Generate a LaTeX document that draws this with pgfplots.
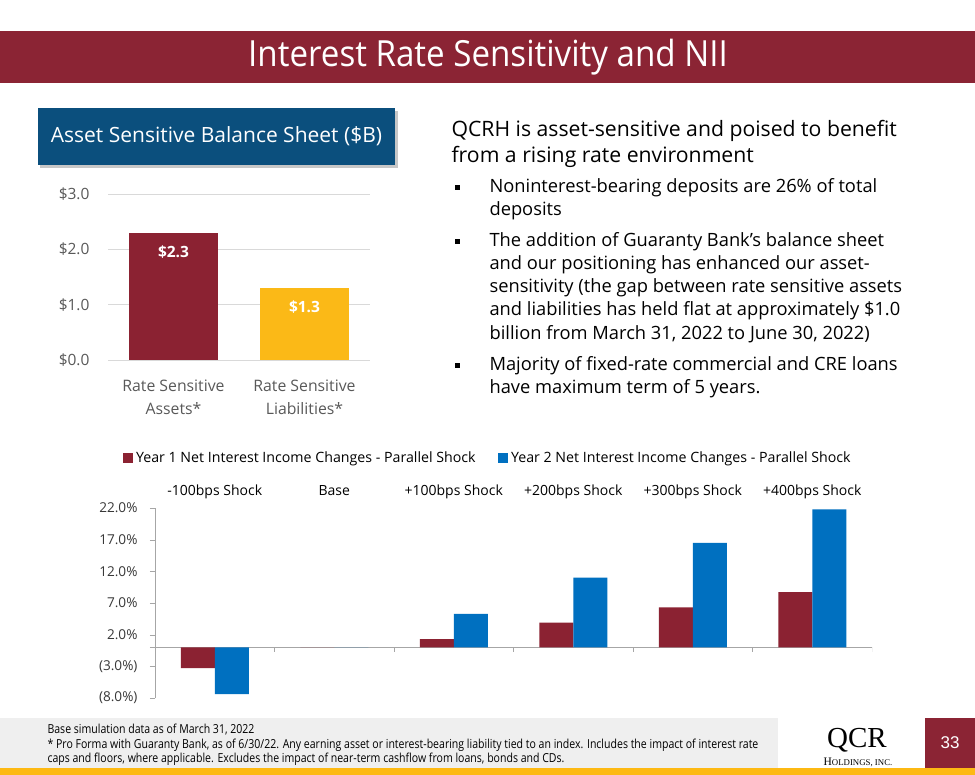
\documentclass[border=0pt]{standalone}
\usepackage{fontspec}
\setmainfont{Open Sans}
\newfontfamily\condfont{Open Sans}[FakeStretch=0.85]
\newfontfamily\titlefont{Open Sans}[FakeStretch=0.92]
\newfontfamily\logofont{Liberation Serif}
\newfontfamily\numfont{Liberation Sans}
\usepackage{pgfplots}
\pgfplotsset{compat=1.18}
\definecolor{titlered}{HTML}{8B2434}
\definecolor{barred}{HTML}{8B2232}
\definecolor{baryellow}{HTML}{FBB917}
\definecolor{barblue}{HTML}{0070C0}
\definecolor{boxblue}{HTML}{0B4F7D}
\definecolor{footgray}{HTML}{EFEFEF}
\definecolor{stripe}{HTML}{FDB913}
\definecolor{gridgray}{HTML}{D9D9D9}
\definecolor{axgray}{HTML}{A6A6A6}
\definecolor{labgray}{HTML}{595959}
\newcommand{\fs}[1]{\fontsize{#1pt}{1.2\dimexpr#1pt\relax}\selectfont}
\begin{document}
\begin{tikzpicture}
\begin{scope}[x=1pt,y=-1pt]
% background
\fill[white] (0,0) rectangle (975,775);
% title band
\fill[titlered] (0,31) rectangle (975,83);
\node[white,font=\titlefont\fs{36}] at (488,57) {Interest Rate Sensitivity and NII};
% blue box with shadow
\fill[black!22] (40,111) rectangle (398,168);
\fill[boxblue] (38,108) rectangle (395,165);
\node[white,font=\fs{21}] at (216.5,136.5) {Asset Sensitive Balance Sheet (\$B)};
% right text
\node[anchor=west,font=\fs{21.2}] at (448,131) {QCRH is asset-sensitive and poised to benefit};
\node[anchor=west,font=\fs{21.2}] at (448,157) {from a rising rate environment};
\foreach \yy in {188,242,366} {\fill (455,\yy-2.5) rectangle (460,\yy+2.5);}
\foreach \yy/\tt in {188/{Noninterest-bearing deposits are 26\% of total},
  211/{deposits},
  242/{The addition of Guaranty Bank’s balance sheet},
  265/{and our positioning has enhanced our asset-},
  288/{sensitivity (the gap between rate sensitive assets},
  311/{and liabilities has held flat at approximately \$1.0},
  334/{billion from March 31, 2022 to June 30, 2022)},
  366/{Majority of fixed-rate commercial and CRE loans},
  389/{have maximum term of 5 years.}}
  {\node[anchor=west,font=\fs{18.3}] at (486,\yy) {\tt};}
% footer
\fill[footgray] (0,718) rectangle (975,768);
\fill[white] (778,718) rectangle (925,768);
\fill[titlered] (925,718) rectangle (975,768);
\fill[stripe] (0,768) rectangle (975,775);
\node[white,font=\numfont\fs{17}] at (950,743) {33};
\node[font=\logofont\fs{29}] at (857,740) {QCR};
\node[font=\logofont\fs{11.5}] at (858,762) {H\fs{8.8}OLDINGS, INC.};
\node[anchor=west,font=\condfont\fs{12.4}] at (44,730) {Base simulation data as of March 31, 2022};
\node[anchor=west,font=\condfont\fs{12.4}] at (44,745) {* Pro Forma with Guaranty Bank, as of 6/30/22. Any earning asset or interest-bearing liability tied to an index. Includes the impact of interest rate};
\node[anchor=west,font=\condfont\fs{12.4}] at (44,759) {caps and floors, where applicable. Excludes the impact of near-term cashflow from loans, bonds and CDs.};
\end{scope}

% ---------- top chart ----------
\begin{axis}[
  at={(108pt,-360pt)}, anchor=south west, scale only axis,
  width=262pt, height=166pt,
  xmin=-0.5, xmax=1.5, ymin=0, ymax=3,
  axis x line*=bottom, axis y line*=left,
  y axis line style={draw=none},
  x axis line style={draw=gridgray},
  ytick={0,1,2,3}, yticklabels={\$0.0,\$1.0,\$2.0,\$3.0},
  ymajorgrids, grid style={draw=gridgray},
  ytick style={draw=none},
  xtick={0,1}, xtick style={draw=none},
  xticklabels={{Rate Sensitive\\Assets*},{Rate Sensitive\\Liabilities*}},
  xticklabel style={align=center, font=\fontsize{15.8pt}{23pt}\selectfont, text=labgray, yshift=-16pt},
  yticklabel style={font=\fs{15.5}, text=labgray, xshift=-15pt},
  extra x ticks={-0.5,0.5,1.5}, extra x tick labels={,,},
  extra x tick style={tick style={draw=gridgray}, major tick length=5pt, tick align=outside},
  nodes near coords={\$\pgfmathprintnumber[assume math mode=true,fixed,fixed zerofill,precision=1]{\pgfplotspointmeta}},
  every node near coord/.append style={text=white, font=\bfseries\fs{15.5}, anchor=north, yshift=-9pt},
]
\addplot[ybar, bar width=88.7pt, bar shift=0pt, fill=barred, draw=none] coordinates {(0,2.3)};
\addplot[ybar, bar width=88.7pt, bar shift=0pt, fill=baryellow, draw=none] coordinates {(1,1.3)};
\end{axis}

% ---------- bottom chart ----------
\begin{axis}[
  at={(155pt,-698pt)}, anchor=south west, scale only axis,
  width=717pt, height=190pt,
  xmin=-0.5, xmax=5.5, ymin=-8, ymax=22,
  axis y line*=left, axis x line*=top,
  x axis line style={draw=none},
  y axis line style={draw=axgray},
  xtick={0,1,2,3,4,5}, xtick style={draw=none},
  xticklabels={-100bps Shock,Base,+100bps Shock,+200bps Shock,+300bps Shock,+400bps Shock},
  xticklabel style={font=\fs{14}, text height=1.5ex, text depth=0.3ex, yshift=2pt},
  ytick={-8,-3,2,7,12,17,22},
  yticklabels={(8.0\%),(3.0\%),2.0\%,7.0\%,12.0\%,17.0\%,22.0\%},
  yticklabel style={font=\fs{13.6}, text=black!78, xshift=-9pt},
  ytick style={draw=axgray}, tick align=outside, major tick length=5pt,
  extra y ticks={0}, extra y tick labels={},
  extra y tick style={grid=major, major grid style={draw=axgray}, tick style={draw=none}},
  legend style={at={(0.464,1)}, anchor=south, yshift=40pt, draw=none, fill=none,
     font=\fs{14.2}, legend columns=2,
     /tikz/every even column/.append style={column sep=20pt}},
]
\addplot[ybar, bar width=34pt, bar shift=-17pt, fill=barred, draw=none, forget plot]
  coordinates {(0,-3.3) (1,0) (2,1.3) (3,3.9) (4,6.3) (5,8.7)};
\addplot[ybar, bar width=34pt, bar shift=17pt, fill=barblue, draw=none, forget plot]
  coordinates {(0,-7.4) (1,0) (2,5.3) (3,11.0) (4,16.5) (5,21.8)};
\pgfplotsinvokeforeach{0.5,1.5,2.5,3.5,4.5,5.5}{
  \addplot[axgray, forget plot] coordinates {(#1,0) (#1,-0.8)};
}
\addlegendimage{legend image code/.code={\fill[barred] (0pt,-4.5pt) rectangle (9pt,4.5pt); \path (11pt,0pt);}}
\addlegendentry{Year 1 Net Interest Income Changes - Parallel Shock}
\addlegendimage{legend image code/.code={\fill[barblue] (0pt,-4.5pt) rectangle (9pt,4.5pt); \path (11pt,0pt);}}
\addlegendentry{Year 2 Net Interest Income Changes - Parallel Shock}
\end{axis}
\end{tikzpicture}
\end{document}
